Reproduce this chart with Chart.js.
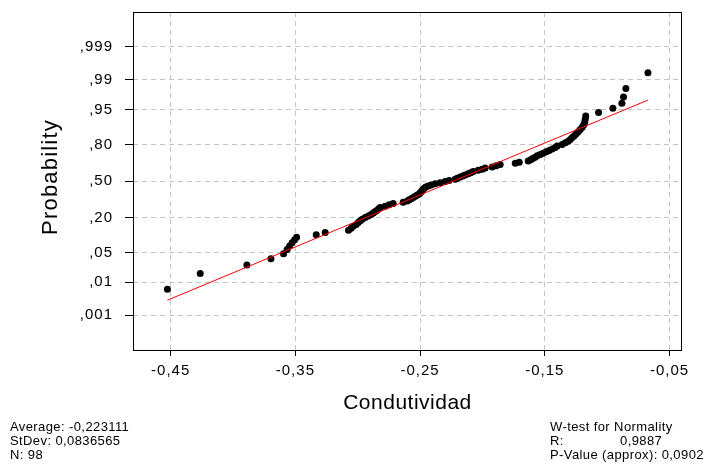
<!DOCTYPE html>
<html>
<head>
<meta charset="utf-8">
<script src="https://cdn.jsdelivr.net/npm/chart.js@4.4.0/dist/chart.umd.min.js"></script>
<style>
  html, body { margin: 0; padding: 0; background: #fff; }
</style>
</head>
<body>
<canvas id="chart" width="710" height="472"></canvas>
<script>
// sorted sample values
const condutividad = [
  -0.4526, -0.4263, -0.3889, -0.3696, -0.3595, -0.3566, -0.3546, -0.3526, -0.3506, -0.3490,
  -0.3333, -0.3261, -0.3074, -0.3053, -0.3036, -0.3012, -0.2996, -0.2980, -0.2964, -0.2940,
  -0.2916, -0.2892, -0.2876, -0.2860, -0.2844, -0.2832, -0.2820, -0.2780, -0.2748, -0.2716,
  -0.2636, -0.2603, -0.2587, -0.2571, -0.2555, -0.2539, -0.2523, -0.2507, -0.2499, -0.2491,
  -0.2483, -0.2475, -0.2467, -0.2455, -0.2435, -0.2411, -0.2379, -0.2339, -0.2299, -0.2267,
  -0.2219, -0.2202, -0.2178, -0.2158, -0.2138, -0.2114, -0.2094, -0.2074, -0.2034, -0.2002,
  -0.1978, -0.1922, -0.1890, -0.1858, -0.1737, -0.1705, -0.1633, -0.1613, -0.1597, -0.1577,
  -0.1561, -0.1537, -0.1513, -0.1489, -0.1465, -0.1441, -0.1417, -0.1401, -0.1361, -0.1336,
  -0.1312, -0.1296, -0.1280, -0.1264, -0.1248, -0.1232, -0.1216, -0.1200, -0.1188, -0.1180,
  -0.1176, -0.1172, -0.1069, -0.0954, -0.0882, -0.0869, -0.0850, -0.0673
];
const probTicks = [0.001, 0.01, 0.05, 0.2, 0.5, 0.8, 0.95, 0.99, 0.999];
const probLabels = [",001", ",01", ",05", ",20", ",50", ",80", ",95", ",99", ",999"];
const xTicks = [-0.45, -0.35, -0.25, -0.15, -0.05];
const xLabels = ["-0,45", "-0,35", "-0,25", "-0,15", "-0,05"];

const average = -0.223111;
const stDev = 0.0836565;
const nObs = 98;
const rValue = "0,9887";
const pValue = "0,0902";

// inverse of the standard normal cdf (Acklam)
function normInv(p) {
  const a = [-39.69683028665376, 220.9460984245205, -275.9285104469687, 138.3577518672690, -30.66479806614716, 2.506628277459239];
  const b = [-54.47609879822406, 161.5858368580409, -155.6989798598866, 66.80131188771972, -13.28068155288572];
  const c = [-0.007784894002430293, -0.3223964580411365, -2.400758277161838, -2.549732539343734, 4.374664141464968, 2.938163982698783];
  const d = [0.007784695709041462, 0.3224671290700398, 2.445134137142996, 3.754408661907416];
  const lo = 0.02425, hi = 1 - lo;
  let q, r;
  if (p < lo) {
    q = Math.sqrt(-2 * Math.log(p));
    return (((((c[0]*q+c[1])*q+c[2])*q+c[3])*q+c[4])*q+c[5]) / ((((d[0]*q+d[1])*q+d[2])*q+d[3])*q+1);
  }
  if (p > hi) {
    q = Math.sqrt(-2 * Math.log(1 - p));
    return -(((((c[0]*q+c[1])*q+c[2])*q+c[3])*q+c[4])*q+c[5]) / ((((d[0]*q+d[1])*q+d[2])*q+d[3])*q+1);
  }
  q = p - 0.5; r = q * q;
  return (((((a[0]*r+a[1])*r+a[2])*r+a[3])*r+a[4])*r+a[5])*q / (((((b[0]*r+b[1])*r+b[2])*r+b[3])*r+b[4])*r+1);
}

// normal scores (Blom plotting positions)
const n = condutividad.length;
const points = condutividad.map((x, i) => ({ x: x, y: normInv((i + 1 - 0.375) / (n + 0.25)) }));
const xFirst = condutividad[0], xLast = condutividad[n - 1];
const fitLine = [
  { x: xFirst, y: (xFirst - average) / stDev },
  { x: xLast, y: (xLast - average) / stDev }
];

const FONT = "'Liberation Sans', Arial, sans-serif";

const textPlugin = {
  id: "texts",
  beforeDraw(chart) {
    chart.ctx.letterSpacing = "1px";
  },
  afterDraw(chart) {
    const ctx = chart.ctx;
    const a = chart.chartArea;
    ctx.save();
    ctx.strokeStyle = "#000";
    ctx.lineWidth = 1;
    ctx.setLineDash([]);
    ctx.strokeRect(Math.round(a.left) + 0.5, Math.round(a.top) + 0.5, Math.round(a.right - a.left) - 1, Math.round(a.bottom - a.top));
    ctx.fillStyle = "#000";
    ctx.letterSpacing = "0.5px";
    ctx.font = "21px " + FONT;
    ctx.textAlign = "center";
    ctx.textBaseline = "middle";
    ctx.fillText("Condutividad", (a.left + a.right) / 2, 403);
    ctx.save();
    ctx.translate(51, 177);
    ctx.rotate(-Math.PI / 2);
    ctx.font = "22px " + FONT;
    ctx.letterSpacing = "1.2px";
    ctx.fillText("Probability", 0, 0);
    ctx.restore();

    ctx.font = "13px " + FONT;
    ctx.letterSpacing = "0.4px";
    ctx.textAlign = "left";
    ctx.fillText("Average: " + average.toString().replace(".", ","), 10, 427);
    ctx.fillText("StDev: " + stDev.toString().replace(".", ","), 10, 441);
    ctx.fillText("N: " + nObs, 10, 455);
    ctx.fillText("W-test for Normality", 550, 427);
    ctx.fillText("R:", 550, 441);
    ctx.fillText(rValue, 620, 441);
    ctx.fillText("P-Value (approx): " + pValue, 550, 455);
    ctx.restore();
  }
};

new Chart(document.getElementById("chart").getContext("2d"), {
  type: "scatter",
  data: {
    datasets: [
      {
        data: points,
        backgroundColor: "#000",
        borderWidth: 0,
        pointRadius: 3.5,
        order: 1
      },
      {
        data: fitLine,
        showLine: true,
        borderColor: "#ff0000",
        borderWidth: 1,
        pointRadius: 0,
        order: 0
      }
    ]
  },
  options: {
    responsive: false,
    animation: false,
    layout: { padding: { left: 0, right: 28, top: 12, bottom: 0 } },
    plugins: { legend: { display: false }, tooltip: { enabled: false } },
    scales: {
      x: {
        type: "linear",
        min: -0.4802,
        max: -0.0400,
        afterFit: s => { s.height = 122; s.paddingLeft = 0; s.paddingRight = 0; },
        afterBuildTicks: s => { s.ticks = xTicks.map(v => ({ value: v })); },
        ticks: {
          callback: (v, i) => xLabels[i],
          color: "#000",
          font: { family: FONT, size: 15 },
          padding: 6,
          autoSkip: false,
          maxRotation: 0
        },
        grid: { color: "#c4c4c4", tickColor: "#000", tickLength: 6, tickBorderDash: [1, 0] },
        border: { display: false, dash: [5, 4] }
      },
      y: {
        type: "linear",
        min: -3.89,
        max: 3.89,
        afterFit: s => { s.width = 133; s.paddingTop = 0; s.paddingBottom = 0; },
        afterBuildTicks: s => { s.ticks = probTicks.map(p => ({ value: normInv(p) })); },
        ticks: {
          callback: (v, i) => probLabels[i],
          color: "#000",
          font: { family: FONT, size: 15 },
          padding: 12,
          autoSkip: false
        },
        grid: { color: "#c4c4c4", tickColor: "#000", tickLength: 8, tickBorderDash: [1, 0] },
        border: { display: false, dash: [5, 4] }
      }
    }
  },
  plugins: [textPlugin]
});
</script>
</body>
</html>
